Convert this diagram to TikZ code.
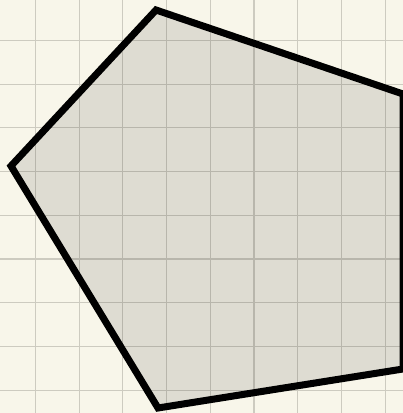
\documentclass[tikz,border=0pt]{standalone}
\definecolor{paper}{RGB}{248,246,234}
\definecolor{gridline}{RGB}{205,203,192}

\begin{document}
\begin{tikzpicture}[x=1pt,y=1pt,
   gridlines/.style={draw=gridline, line width=1.1pt},
   pentagon/.style={draw=black, line width=7pt, fill=black, fill opacity=0.1, draw opacity=1}]
\useasboundingbox (0,0) rectangle (403,413);
\clip (0,0) rectangle (403,413);
\fill[paper] (0,0) rectangle (403,413);
\foreach \k in {0,...,8} {
   \draw[gridlines] ({35.5+43.7*\k},0) -- ({35.5+43.7*\k},413);
   \draw[gridlines] (0,{372.5-43.7*\k}) -- (403,{372.5-43.7*\k});
}
\coordinate (top) at (156,403);
\coordinate (right top) at (403,319);
\coordinate (right bottom) at (403,44);
\coordinate (bottom) at (158,5);
\coordinate (left) at (11,247);
\draw[pentagon] (top) -- (right top) -- (right bottom) -- (bottom) -- (left) -- cycle;
\end{tikzpicture}
\end{document}
